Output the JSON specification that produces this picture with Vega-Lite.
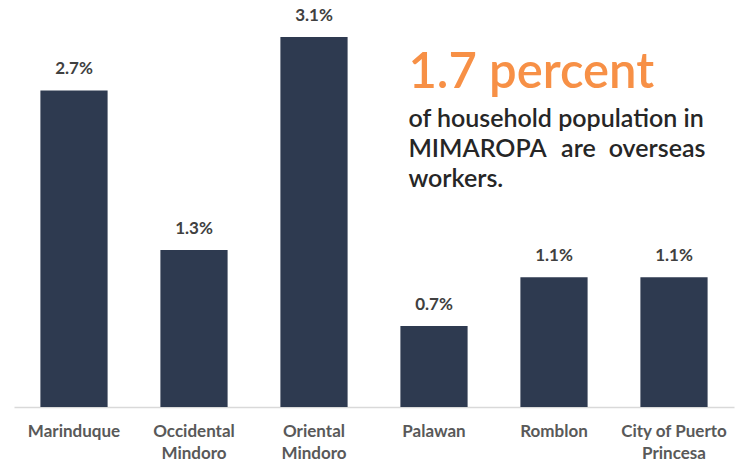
{
  "$schema": "https://vega.github.io/schema/vega-lite/v6.json",
  "autosize": {"type": "none"},
  "padding": {"left": 14, "top": 0, "right": 3, "bottom": 61},
  "width": 720,
  "height": 407,
  "background": "white",
  "config": {"view": {"stroke": null}},
  "datasets": {
    "bars": [
      {"province": "Marinduque", "value": 2.66, "label": "2.7%"},
      {"province": "Occidental Mindoro", "value": 1.32, "label": "1.3%"},
      {"province": "Oriental Mindoro", "value": 3.11, "label": "3.1%"},
      {"province": "Palawan", "value": 0.68, "label": "0.7%"},
      {"province": "Romblon", "value": 1.09, "label": "1.1%"},
      {"province": "City of Puerto Princesa", "value": 1.09, "label": "1.1%"}
    ],
    "notes": [
      {"text": "of household population in", "y": 2.35},
      {"text": "MIMAROPA", "y": 2.10},
      {"text": "workers.", "y": 1.85}
    ]
  },
  "data": {"name": "bars"},
  "encoding": {
    "x": {
      "field": "province",
      "type": "nominal",
      "sort": null,
      "scale": {"paddingInner": 0.44, "paddingOuter": 0.22},
      "axis": {
        "title": null,
        "labelAngle": 0,
        "ticks": false,
        "domainColor": "#D9D9D9",
        "domainWidth": 1.5,
        "labelFont": "Lato",
        "labelFontSize": 17,
        "labelFontWeight": "bold",
        "labelColor": "#595959",
        "labelLineHeight": 22,
        "labelPadding": 16,
        "labelExpr": "indexof(datum.label,' ')<0 ? datum.label : [substring(datum.label,0,lastindexof(datum.label,' ')), substring(datum.label,lastindexof(datum.label,' ')+1)]"
      }
    },
    "y": {
      "field": "value",
      "type": "quantitative",
      "scale": {"domain": [0, 3.42], "nice": false},
      "axis": null
    }
  },
  "layer": [
    {"mark": {"type": "bar", "color": "#2E3A50"}},
    {
      "mark": {"type": "text", "baseline": "bottom", "dy": -12, "font": "Lato", "fontSize": 17, "fontWeight": "bold", "color": "#404040"},
      "encoding": {"text": {"field": "label"}}
    },
    {
      "data": {"values": [{"t": "1.7 percent", "y": 2.68}]},
      "mark": {"type": "text", "align": "left", "baseline": "alphabetic", "dx": 8, "font": "Lato", "fontSize": 49, "fontWeight": 600, "color": "#F79046"},
      "encoding": {
        "x": {"datum": "Palawan", "bandPosition": 0},
        "y": {"field": "y", "type": "quantitative"},
        "text": {"field": "t"}
      }
    },
    {
      "data": {"name": "notes"},
      "mark": {"type": "text", "align": "left", "baseline": "alphabetic", "dx": 8, "font": "Lato", "fontSize": 25, "fontWeight": 600, "color": "#262626"},
      "encoding": {
        "x": {"datum": "Palawan", "bandPosition": 0},
        "y": {"field": "y", "type": "quantitative"},
        "text": {"field": "text"}
      }
    },
    {
      "data": {"values": [{"t": "are", "y": 2.10}]},
      "mark": {"type": "text", "align": "center", "baseline": "alphabetic", "dx": 178, "font": "Lato", "fontSize": 25, "fontWeight": 600, "color": "#262626"},
      "encoding": {
        "x": {"datum": "Palawan", "bandPosition": 0},
        "y": {"field": "y", "type": "quantitative"},
        "text": {"field": "t"}
      }
    },
    {
      "data": {"values": [{"t": "overseas", "y": 2.10}]},
      "mark": {"type": "text", "align": "right", "baseline": "alphabetic", "dx": 305, "font": "Lato", "fontSize": 25, "fontWeight": 600, "color": "#262626"},
      "encoding": {
        "x": {"datum": "Palawan", "bandPosition": 0},
        "y": {"field": "y", "type": "quantitative"},
        "text": {"field": "t"}
      }
    }
  ]
}
